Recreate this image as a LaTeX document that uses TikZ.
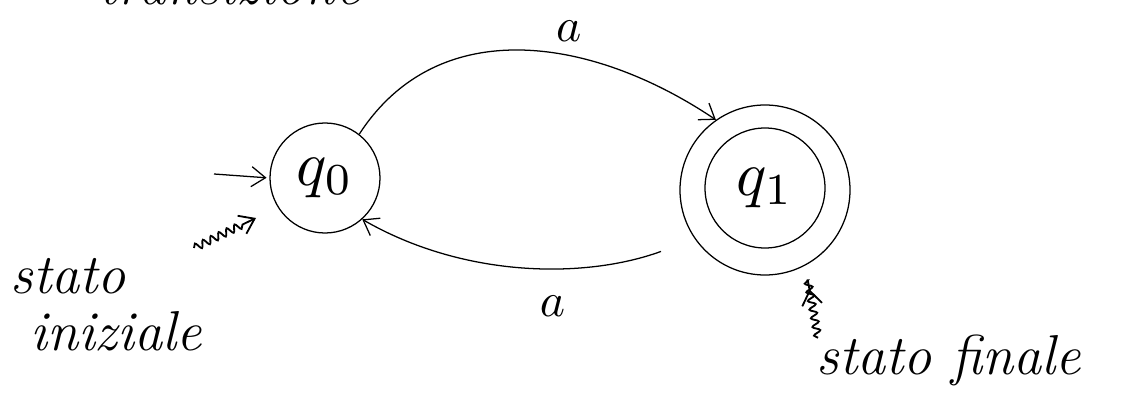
\documentclass[tikz,border=0pt]{standalone}
\usepackage{amsmath}
\usetikzlibrary{arrows.meta,decorations.pathmorphing}

\newcommand{\qlab}[1]{\scalebox{4.5}{$q_{#1}$}}
\newcommand{\alab}{\scalebox{3.4}{$a$}}

\begin{document}
\begin{tikzpicture}[
    line width=0.9pt,
    >={Straight Barb[length=3.5mm,width=5mm]},
    state/.style={draw,circle,inner sep=0pt},
    hand/.style={font=\fontsize{40}{46}\selectfont\itshape,align=left},
    squiggle/.style={->,line width=1.3pt,decorate,
        decoration={snake,amplitude=0.9mm,segment length=2.2mm,post length=3mm}}
]
\useasboundingbox (0,0) rectangle (28.2,10.1);

% States
\node[state,minimum size=2.75cm] (q0) at (8.125,5.65) {\qlab{0}};
\node[state,minimum size=4.25cm] (q1out) at (19.125,5.35) {};
\node[state,minimum size=3cm] (q1) at (19.125,5.4) {\qlab{1}};

% Transitions
\draw[->] (q0.52) to[out=57,in=146,looseness=1.05]
    node[pos=0.62,above=3mm,inner sep=1pt] (la) {\alab} (q1out.125);
\draw[->,shorten <=0.9cm] (q1out.215) to[out=200,in=-30,looseness=0.9]
    node[pos=0.42,below=6mm] (lb) {\alab} (q0.-48);

% Initial arrow
\coordinate (start) at (5.35,5.75);
\draw[->,shorten >=2pt] (start) -- (q0.west);

% Comments
\node[hand,anchor=base] (tr) at (5.75,9.98) {transizione};

\node[hand,anchor=north west,inner sep=0pt] (ini) at (0.25,3.65)
    {stato\\[-6pt]\ iniziale};
\coordinate (sqi) at (4.85,3.9);
\coordinate (sqo) at (6.4,4.65);
\draw[squiggle] (sqi) -- (sqo);

\node[hand,anchor=base west,inner sep=0pt] (fin) at (20.4,0.75)
    {stato finale};
\draw[squiggle,shorten >=0.6cm] ([xshift=0.05cm,yshift=-0.1cm]fin.north west) -- (q1out.-62);

\end{tikzpicture}
\end{document}
